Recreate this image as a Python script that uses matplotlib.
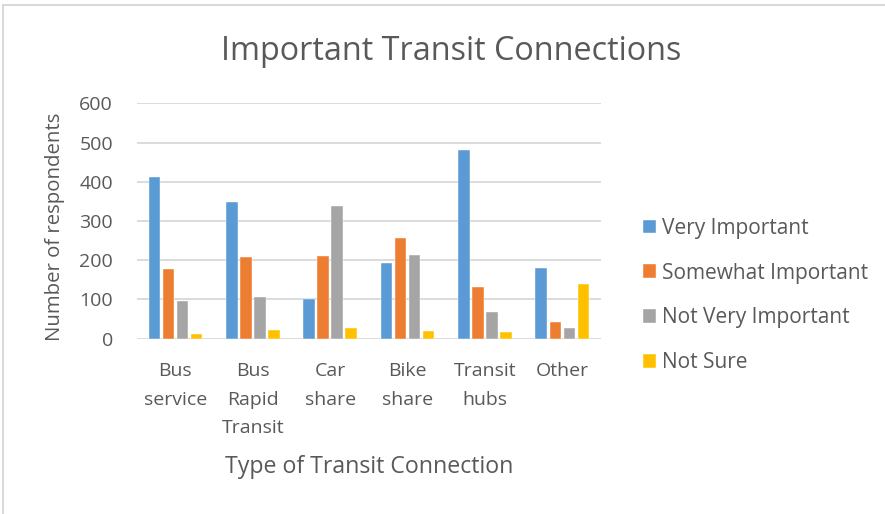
import matplotlib
matplotlib.use("Agg")
import matplotlib.pyplot as plt
import numpy as np
from matplotlib.patches import Rectangle

categories = ["Bus\nservice", "Bus\nRapid\nTransit", "Car\nshare", "Bike\nshare", "Transit\nhubs", "Other"]
series_names = ["Very Important", "Somewhat Important", "Not Very Important", "Not Sure"]
very_important = [411, 348, 102, 192, 481, 180]
somewhat_important = [178, 207, 210, 256, 132, 43]
not_very_important = [97, 107, 337, 213, 67, 26]
not_sure = [11, 22, 28, 20, 17, 139]
colors = ["#5B9BD5", "#ED7D31", "#A5A5A5", "#FFC000"]
yticks = [0, 100, 200, 300, 400, 500, 600]

TXT = "#595959"
plt.rcParams['font.family'] = ['Open Sans', 'DejaVu Sans']

fig = plt.figure(figsize=(8.85, 5.14), dpi=100)
W, H = 885, 514
ax = fig.add_axes([136.7 / W, 1 - 338.7 / H, (601 - 136.7) / W, (338.7 - 103.3) / H])

x = np.arange(len(categories))
step = 0.181
width = 0.15
all_series = [very_important, somewhat_important, not_very_important, not_sure]
for i, (vals, name, c) in enumerate(zip(all_series, series_names, colors)):
    ax.bar(x + (i - 1.5) * step, vals, width, color=c, label=name, zorder=3,
           edgecolor="white", linewidth=0.3)

ax.set_xlim(-0.5, len(categories) - 0.5)
ax.set_ylim(0, 600)
ax.set_yticks(yticks)
ax.set_yticklabels([str(v) for v in yticks], fontsize=14, color=TXT)
ax.set_xticks(x)
ax.set_xticklabels(categories, fontsize=14, color=TXT, linespacing=1.73)
ax.tick_params(axis='both', length=0)
ax.tick_params(axis='y', pad=17)
ax.tick_params(axis='x', pad=17)
ax.grid(axis='y', color="#D9D9D9", linewidth=1.3, zorder=0)
for s in ax.spines.values():
    s.set_visible(False)

fig.text(451 / W, 1 - 52 / H, "Important Transit Connections", fontsize=23.3, color=TXT,
         ha='center', va='center')
fig.text(55 / W, 1 - 227 / H, "Number of respondents", fontsize=14.7, color=TXT,
         ha='center', va='center', rotation=90)
fig.text(369 / W, 1 - 467 / H, "Type of Transit Connection", fontsize=16.7, color=TXT,
         ha='center', va='center')

leg = ax.legend(loc='center left', bbox_to_anchor=(643 / W, 1 - 295.5 / H),
                bbox_transform=fig.transFigure, frameon=False, fontsize=15,
                labelcolor=TXT, handlelength=0.63, handleheight=0.63,
                handletextpad=0.3, labelspacing=1.14, borderpad=0,
                borderaxespad=0)

fig.patches.append(Rectangle((3 / W, -0.02), 1.1, 1 - 4.5 / H + 0.02,
                             transform=fig.transFigure, fill=False,
                             edgecolor="#D9D9D9", linewidth=1.5))

fig.savefig("out.png", dpi=100)
